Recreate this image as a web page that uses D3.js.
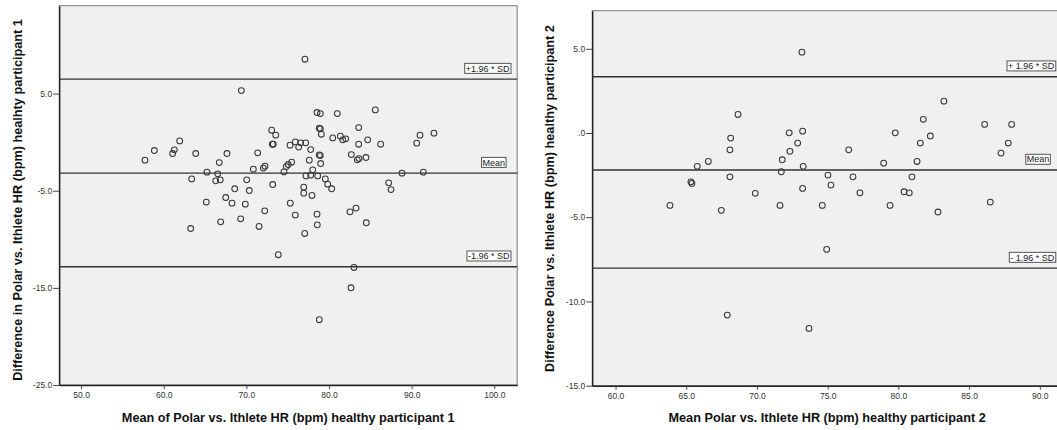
<!DOCTYPE html>
<html>
<head>
<meta charset="utf-8">
<script src="https://cdn.jsdelivr.net/npm/d3@7"></script>
<style>
  html, body { margin: 0; padding: 0; background: #fff; }
  svg { display: block; font-family: "Liberation Sans", Arial, sans-serif; }
</style>
</head>
<body>
<svg id="chart" width="1057" height="430"></svg>
<script>
// Participant 1: mean of the two devices (bpm) and their difference (bpm)
const p1Mean = [
  69.39, 61.93, 58.86, 57.73, 61.28, 61.08, 63.87, 67.65, 71.37, 66.72,
  70.84, 65.23, 66.53, 63.38, 66.29, 66.84, 70.04, 68.59, 70.35, 65.15,
  67.50, 68.26, 69.87, 66.89, 69.31, 63.26, 71.53, 77.09, 85.60, 78.55,
  78.95, 81.00, 73.06, 73.55, 78.82, 78.95, 79.07, 83.59, 80.45, 81.37,
  81.66, 82.02, 84.68, 91.01, 92.70, 90.61, 86.25, 83.59, 73.14, 73.26,
  75.28, 75.92, 76.57, 77.18, 76.33, 77.78, 78.82, 78.95, 82.70, 83.42,
  83.63, 84.47, 77.61, 78.99, 75.48, 75.07, 74.83, 74.55, 72.05, 72.25,
  78.03, 77.21, 77.78, 78.63, 88.83, 91.41, 73.19, 76.94, 79.55, 79.84,
  80.32, 87.22, 87.50, 76.94, 77.94, 75.31, 72.22, 75.92, 78.55, 78.58,
  82.54, 83.27, 84.51, 77.06, 73.86, 83.02, 82.66, 78.82
];
const p1Diff = [
   5.31,  0.13, -0.86, -1.85, -0.79, -1.17, -1.17, -1.17, -1.10, -2.10,
  -2.78, -3.09, -3.26, -3.78, -3.98, -3.88, -3.88, -4.80, -4.98, -6.17,
  -5.70, -6.28, -6.38, -8.20, -7.89, -8.89, -8.68,  8.54,  3.32,  3.05,
   2.94,  2.94,  1.23,  0.72,  1.44,  1.37,  0.82,  1.50,  0.44,  0.62,
   0.24,  0.34,  0.24,  0.72,  0.93, -0.10, -0.21, -0.21, -0.21, -0.21,
  -0.31,  0.03, -0.07, -0.07, -0.51, -0.76, -1.31, -1.38, -1.28, -1.82,
  -1.69, -1.58, -1.85, -2.20, -2.06, -2.30, -2.51, -3.06, -2.67, -2.47,
  -2.85, -3.47, -3.40, -3.47, -3.19, -3.09, -4.36, -4.63, -3.78, -4.32,
  -4.80, -4.19, -4.88, -5.25, -5.49, -6.28, -7.07, -7.51, -7.41, -8.51,
  -7.17, -6.79, -8.30, -9.40, -11.59, -12.90, -14.99, -18.28
];
// Upper limit, mean difference, lower limit
const p1Limits = [6.49, -3.19, -12.83];
const p1LimitLabels = ["+1.96 * SD", "Mean", "-1.96 * SD"];
const p1XTicks = [50, 60, 70, 80, 90, 100];
const p1YTicks = [5, -5, -15, -25];
const p1YTickLabels = ["5.0", "-5.0", "-15.0", "-25.0"];

// Participant 2
const p2Mean = [
  73.18, 68.66, 68.14, 68.09, 72.28, 73.23, 72.88, 72.33, 71.79, 66.56,
  65.78, 71.72, 73.27, 68.09, 65.33, 65.40, 75.02, 75.23, 73.23, 69.88,
  83.22, 81.76, 79.78, 82.26, 81.55, 86.10, 88.01, 87.77, 87.26, 76.49,
  78.96, 81.32, 76.79, 80.96, 77.28, 80.40, 80.77, 63.85, 67.48, 71.63,
  74.62, 74.93, 67.90, 73.68, 79.41, 82.80, 86.50
];
const p2Diff = [
   4.80,  1.10, -0.30, -1.00,  0.01,  0.11, -0.60, -1.09, -1.59, -1.69,
  -1.98, -2.30, -1.98, -2.60, -2.90, -2.99, -2.50, -3.09, -3.29, -3.58,
   1.89,  0.81,  0.01, -0.18, -0.60,  0.51,  0.51, -0.60, -1.19, -1.00,
  -1.79, -1.69, -2.60, -2.60, -3.55, -3.49, -3.55, -4.30, -4.59, -4.30,
  -4.30, -6.91, -10.81, -11.60, -4.30, -4.69, -4.10
];
const p2Limits = [3.34, -2.20, -8.02];
const p2LimitLabels = ["+ 1.96 * SD", "Mean", "- 1.96 * SD"];
const p2XTicks = [60, 65, 70, 75, 80, 85, 90];
const p2YTicks = [5, 0, -5, -10, -15];
const p2YTickLabels = ["5.0", ".0", "-5.0", "-10.0", "-15.0"];

const svg = d3.select("#chart");

function drawPanel(opts) {
  const x = d3.scaleLinear().domain(opts.xDomain).range([opts.left, opts.right]);
  const y = d3.scaleLinear().domain(opts.yDomain).range([opts.bottom, opts.top]);
  const g = svg.append("g");

  // plot area
  g.append("rect")
    .attr("x", opts.left).attr("y", opts.top)
    .attr("width", opts.right - opts.left).attr("height", opts.bottom - opts.top)
    .attr("fill", "#f0f0f0").attr("stroke", "#7a7a7a").attr("stroke-width", 1);

  // axes
  const xAxis = d3.axisBottom(x).tickValues(opts.xTicks)
    .tickFormat(d3.format(".1f")).tickSizeInner(4).tickSizeOuter(0).tickPadding(3);
  const gx = g.append("g").attr("transform", `translate(0,${opts.bottom})`).call(xAxis);
  const yAxis = d3.axisLeft(y).tickValues(opts.yTicks)
    .tickFormat((d, i) => opts.yTickLabels[i]).tickSizeInner(6).tickSizeOuter(0).tickPadding(1);
  const gy = g.append("g").attr("transform", `translate(${opts.left},0)`).call(yAxis);
  [gx, gy].forEach(a => {
    a.select(".domain").attr("stroke", "#222").attr("stroke-width", 1.4);
    a.selectAll(".tick line").attr("stroke", "#444");
    a.selectAll(".tick text").attr("fill", "#333").style("font-size", "8.5px")
      .style("font-family", "'Liberation Sans', Arial, sans-serif");
  });

  // reference lines with boxed labels
  const lineG = g.append("g");
  opts.limits.forEach((v, i) => {
    const yy = y(v);
    lineG.append("line")
      .attr("x1", opts.left).attr("x2", opts.right)
      .attr("y1", yy).attr("y2", yy)
      .attr("stroke", "#333").attr("stroke-width", 1.4);
    const t = lineG.append("text")
      .attr("x", opts.right - opts.labelInset[i] - 1)
      .attr("y", yy - 7.6)
      .attr("text-anchor", "end")
      .attr("fill", "#222")
      .style("font-size", "9px")
      .text(opts.limitLabels[i]);
    const bb = t.node().getBBox();
    lineG.insert("rect", () => t.node())
      .attr("x", bb.x - 1).attr("y", yy - 15.8)
      .attr("width", bb.width + 2).attr("height", 10)
      .attr("fill", "#fff").attr("stroke", "#444").attr("stroke-width", 0.9);
  });

  // data points
  g.append("g").selectAll("circle")
    .data(opts.means.map((m, i) => [m, opts.diffs[i]]))
    .join("circle")
    .attr("cx", d => x(d[0])).attr("cy", d => y(d[1]))
    .attr("r", 2.9)
    .attr("fill", "none").attr("stroke", "#3a3a3a").attr("stroke-width", 1.05);

  // axis titles
  g.append("text")
    .attr("x", (opts.left + opts.right) / 2).attr("y", 421.7)
    .attr("text-anchor", "middle").attr("fill", "#111")
    .style("font-size", "12.7px").style("font-weight", "bold")
    .text(opts.xTitle);
  g.append("text")
    .attr("transform", `translate(${opts.yTitleX},${opts.yTitleY}) rotate(-90)`)
    .attr("text-anchor", "middle").attr("fill", "#111")
    .style("font-size", "12.7px").style("font-weight", "bold")
    .text(opts.yTitle);
}

drawPanel({
  means: p1Mean, diffs: p1Diff, limits: p1Limits, limitLabels: p1LimitLabels,
  xTicks: p1XTicks, yTicks: p1YTicks, yTickLabels: p1YTickLabels,
  xDomain: [47.35, 102.77], yDomain: [-25, 14.05],
  left: 59.2, right: 517.2, top: 5.7, bottom: 385,
  labelInset: [6.7, 11.1, 6.7],
  xTitle: "Mean of Polar vs. Ithlete HR (bpm) healthy participant 1",
  yTitle: "Difference in Polar vs. Ithlete HR (bpm) healhty participant 1",
  yTitleX: 21.5, yTitleY: 200
});

drawPanel({
  means: p2Mean, diffs: p2Diff, limits: p2Limits, limitLabels: p2LimitLabels,
  xTicks: p2XTicks, yTicks: p2YTicks, yTickLabels: p2YTickLabels,
  xDomain: [58.35, 91.57], yDomain: [-15, 7.26],
  left: 592.2, right: 1062, top: 10.7, bottom: 385.7,
  labelInset: [6.7, 11.7, 6.7],
  xTitle: "Mean Polar vs. Ithlete HR (bpm) healthy participant 2",
  yTitle: "Difference Polar vs. Ithlete HR (bpm) healthy participant 2",
  yTitleX: 554, yTitleY: 198.5
});
</script>
</body>
</html>
